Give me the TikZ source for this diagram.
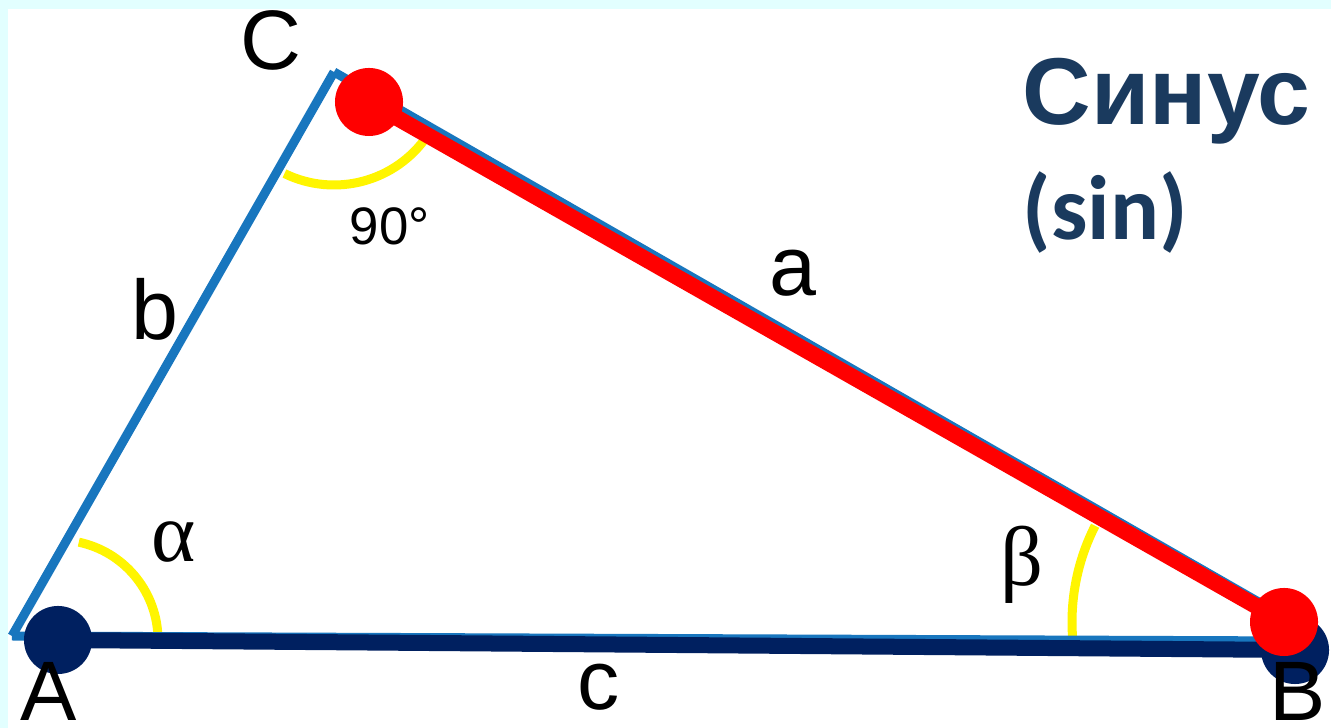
\documentclass[tikz,border=0pt]{standalone}
\usepackage{fontspec}
\setmainfont{Liberation Sans}
\newfontfamily\greekfont{Liberation Serif}
\newfontfamily\calibrifont{Carlito}
\usetikzlibrary{positioning}
\definecolor{sideblue}{RGB}{24,118,190}
\definecolor{basenavy}{RGB}{0,32,96}
\definecolor{arcyellow}{RGB}{255,245,0}
\definecolor{titlenavy}{RGB}{26,58,94}
\definecolor{framecyan}{RGB}{226,255,255}

\begin{document}
\begin{tikzpicture}[x=0.01cm, y=0.01cm,
  side/.style={draw=sideblue, line width=0.09cm},
  hyp/.style={draw=red, line width=0.16cm},
  leg/.style={draw=basenavy, line width=0.16cm},
  anglemark/.style={draw=arcyellow, line width=0.09cm},
  dot/.style={circle, fill=#1, minimum size=0.68cm, inner sep=0pt},
  lbl/.style={font=\fontsize{24}{28}\selectfont, inner sep=0pt, anchor=base},
  headline/.style={font=\fontsize{27}{32}\selectfont\bfseries, text=titlenavy,
                   inner sep=0pt, anchor=base west}]

  \useasboundingbox (0,0) rectangle (1331,728);
  \fill[framecyan] (0,0) rectangle (1331,728);
  \fill[white] (8,0) rectangle (1331,719);

  % vertices
  \coordinate (A0) at (12,92);
  \coordinate (C0) at (334,656);
  \coordinate (B0) at (1290,108);
  \coordinate (Bc) at (1300,87);
  \coordinate (A)  at (58,88);
  \coordinate (C)  at (369,626);
  \coordinate (B)  at (1284,106);
  \coordinate (B2) at (1295,78);

  % angle marks
  \draw[anglemark] (A)  ++(3:100)   arc[start angle=3,   end angle=78,  radius=100];
  \draw[anglemark] (C0) ++(244:113) arc[start angle=244, end angle=326, radius=113];
  \draw[anglemark] (B)  ++(153:212) arc[start angle=153, end angle=184, radius=212];

  % triangle
  \draw[side] (A0) -- (C0);
  \draw[side] (C0) -- (B0);
  \draw[side] (A0) -- (Bc);
  \draw[leg] (A) -- (B2);
  \node[dot=basenavy] (dotA)  at (A)  {};
  \node[dot=basenavy] (dotB2) at (B2) {};
  \draw[hyp] (C) -- (B);
  \node[dot=red] (dotC) at (C) {};
  \node[dot=red] (dotB) at (B) {};

  % labels
  \node[lbl] (labC) at (271,658) {C};
  \node[lbl] (laba) at (793,432) {a};
  \node[lbl] (labb) at (155,388) {b};
  \node[lbl] (labc) at (599,18)  {c};
  \node[lbl] (labA) at (49,7)    {A};
  \node[lbl] (labB) at (1298,7)  {B};
  \node[lbl, font=\fontsize{24}{28}\selectfont\greekfont] (alpha) at (174,166) {α};
  \node[lbl, font=\fontsize{24}{28}\selectfont\greekfont] (beta)  at (1022,142) {β};
  \node[lbl, anchor=base west, font=\fontsize{15}{18}\selectfont] (deg) at (349,483) {90°};

  \node[headline] (sinus)  at (1022,603) {Синус};
  \node[headline, font=\fontsize{26}{31}\selectfont\calibrifont\bfseries] (sinlat) at (1022,488) {(sin)};
\end{tikzpicture}
\end{document}
